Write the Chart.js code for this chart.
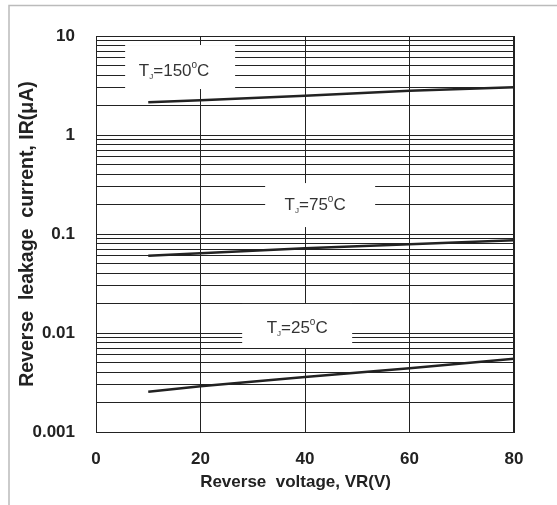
<!DOCTYPE html>
<html>
<head>
<meta charset="utf-8">
<script src="https://cdn.jsdelivr.net/npm/chart.js@4.4.1/dist/chart.umd.min.js"></script>
<style>
  html, body { margin: 0; padding: 0; background: #fff; }
  canvas { display: block; }
</style>
</head>
<body>
<canvas id="leakChart" width="557" height="505"></canvas>
<script>
// reverse voltage (V)
const voltage = [10, 20, 40, 60, 80];
// reverse leakage current (uA) per junction temperature
const ir150 = [2.14, 2.24, 2.49, 2.80, 3.03];
const ir75 = [0.0604, 0.0638, 0.0717, 0.0787, 0.0863];
const ir25 = [0.00255, 0.0029, 0.0036, 0.0044, 0.0055];

const tempLabels = ['150', '75', '25'];
const xTicks = [0, 20, 40, 60, 80];
const yDecades = [0.001, 0.01, 0.1, 1, 10];
const yTickLabels = ['0.001', '0.01', '0.1', '1', '10'];
const minorSteps = [1, 2, 3, 4, 5, 6, 7, 8, 9];

const FONT = "'Liberation Sans', Arial, sans-serif";
const INK = '#222';

// all the log grid lines: 1..9 in each decade, plus the top
const yGrid = [];
yDecades.slice(0, -1).forEach(d => minorSteps.forEach(s => yGrid.push(+(d * s).toPrecision(3))));
yGrid.push(yDecades[yDecades.length - 1]);

// white boxes with the temperature labels (placed in data coords)
const boxes = [
  { t: tempLabels[0], x: 16.1, y: 4.86, dx: -6, dy: 3 },
  { t: tempLabels[1], x: 42.9, y: 0.196, dx: -5, dy: -1 },
  { t: tempLabels[2], x: 38.5, y: 0.01178, dx: 0, dy: 1 }
];

const framePlugin = {
  id: 'frame',
  beforeDraw(chart) {
    const ctx = chart.ctx;
    ctx.save();
    ctx.fillStyle = '#fff';
    ctx.fillRect(0, 0, chart.width, chart.height);
    ctx.strokeStyle = '#bbb';
    ctx.lineWidth = 1.5;
    ctx.beginPath();
    ctx.moveTo(9, chart.height);
    ctx.lineTo(9, 5.5);
    ctx.lineTo(chart.width, 5.5);
    ctx.stroke();
    ctx.restore();
  }
};

const labelPlugin = {
  id: 'tempLabels',
  beforeDatasetsDraw(chart) {
    const ctx = chart.ctx;
    const xs = chart.scales.x, ys = chart.scales.y;
    ctx.save();
    boxes.forEach(b => {
      const cx = xs.getPixelForValue(b.x);
      const cy = ys.getPixelForValue(b.y);
      ctx.fillStyle = '#fff';
      ctx.fillRect(cx - 55, cy - 22, 110, 44);

      const parts = [
        { s: 'T', f: '17px', off: 0 },
        { s: 'J', f: '8px', off: 3 },
        { s: '=' + b.t, f: '17px', off: 0 },
        { s: 'o', f: '10px', off: -8 },
        { s: 'C', f: '17px', off: 0 }
      ];
      let w = 0;
      parts.forEach(p => { ctx.font = p.f + ' ' + FONT; p.w = ctx.measureText(p.s).width; w += p.w; });
      let x = cx + b.dx - w / 2;
      const base = cy + b.dy + 6;
      ctx.fillStyle = '#333';
      ctx.textBaseline = 'alphabetic';
      ctx.textAlign = 'left';
      parts.forEach(p => {
        ctx.font = p.f + ' ' + FONT;
        ctx.fillText(p.s, x, base + p.off);
        x += p.w;
      });
    });
    ctx.restore();
  }
};

new Chart(document.getElementById('leakChart'), {
  type: 'line',
  data: {
    datasets: [
      { label: 'TJ=150°C', data: voltage.map((v, i) => ({ x: v, y: ir150[i] })) },
      { label: 'TJ=75°C', data: voltage.map((v, i) => ({ x: v, y: ir75[i] })) },
      { label: 'TJ=25°C', data: voltage.map((v, i) => ({ x: v, y: ir25[i] })) }
    ]
  },
  options: {
    responsive: false,
    animation: false,
    layout: { padding: { top: 36, right: 43, bottom: 0, left: 0 } },
    elements: {
      line: { borderColor: INK, borderWidth: 2.5, tension: 0 },
      point: { radius: 0 }
    },
    plugins: { legend: { display: false }, tooltip: { enabled: false } },
    scales: {
      x: {
        type: 'linear',
        min: 0,
        max: 80,
        afterBuildTicks: s => { s.ticks = xTicks.map(v => ({ value: v })); },
        afterFit: s => { s.height = 73; },
        grid: {
          color: INK,
          lineWidth: c => (c.tick && c.tick.value === 80 ? 2 : 1),
          drawTicks: false
        },
        border: { color: INK, width: 1 },
        ticks: { padding: 17, color: INK, font: { family: FONT, size: 17, weight: 'bold' } },
        title: {
          display: true,
          // trailing spaces nudge the centred title a little to the left, as in the original
          text: 'Reverse  voltage, VR(V)    ',
          color: INK,
          padding: { bottom: 12 },
          font: { family: FONT, size: 17, weight: 'bold' }
        }
      },
      y: {
        type: 'logarithmic',
        min: 0.001,
        max: 10,
        afterBuildTicks: s => { s.ticks = yGrid.map(v => ({ value: v })); },
        afterFit: s => { s.width = 96; },
        grid: { color: INK, lineWidth: 1, drawTicks: false },
        border: { color: INK, width: 1 },
        ticks: {
          autoSkip: false,
          padding: 21,
          color: INK,
          font: { family: FONT, size: 17, weight: 'bold' },
          callback: v => {
            const i = yDecades.findIndex(d => Math.abs(d - v) / d < 1e-6);
            return i >= 0 ? yTickLabels[i] : '';
          }
        },
        title: {
          display: true,
          text: 'Reverse  leakage  current, IR(μA)',
          color: INK,
          padding: { top: 16 },
          font: { family: FONT, size: 19.5, weight: 'bold' }
        }
      }
    }
  },
  plugins: [framePlugin, labelPlugin]
});
</script>
</body>
</html>
